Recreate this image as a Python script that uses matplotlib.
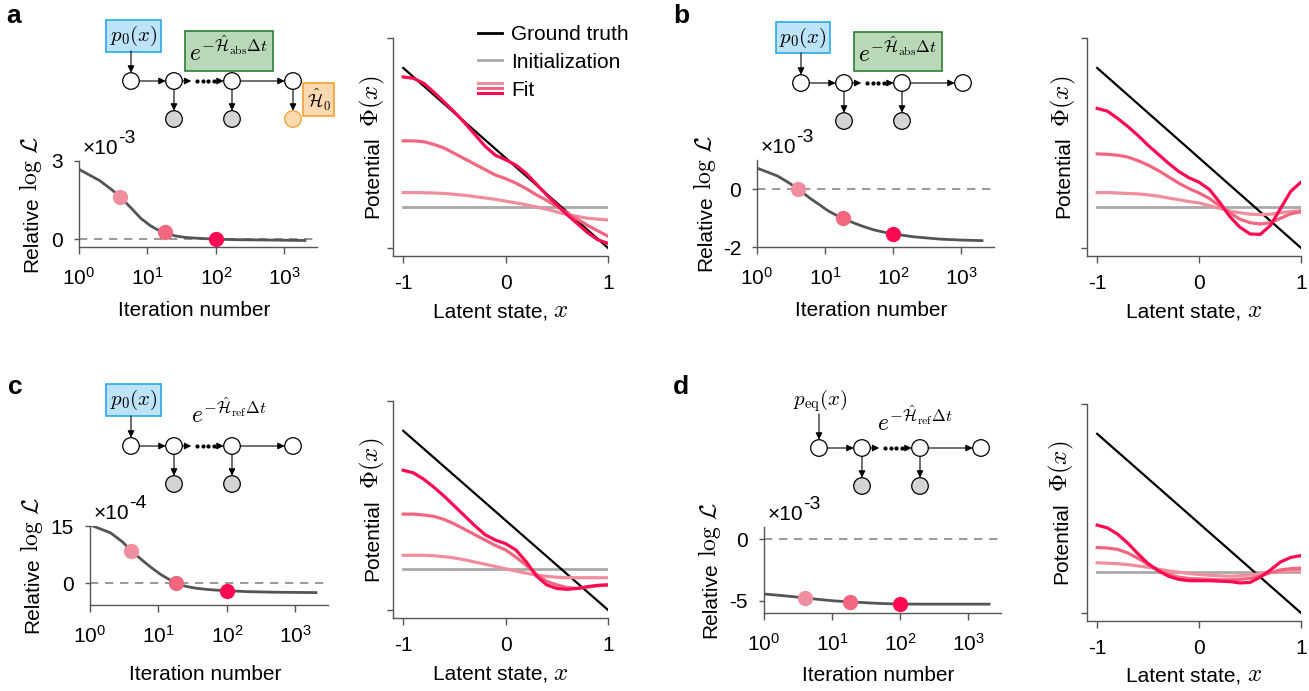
import numpy as np
import matplotlib
import matplotlib.pyplot as plt
from matplotlib.lines import Line2D
from matplotlib.legend_handler import HandlerBase
from matplotlib.patches import Circle

plt.rcParams['font.family'] = ['Liberation Sans', 'DejaVu Sans']
plt.rcParams['mathtext.fontset'] = 'cm'
plt.rcParams['axes.unicode_minus'] = False
plt.rcParams['font.size'] = 15

W, H = 1309, 691

# ---- loss curves (relative log-likelihood) ----
iters = [1, 2, 3, 4, 6, 8, 11, 15, 18, 25, 35, 50, 70, 100, 200, 500, 1000, 2000]
dot_iters = [4, 18, 100]
loss_a = [2.68, 2.25, 1.9, 1.63, 1.15, 0.8, 0.52, 0.32, 0.26, 0.13, 0.07, 0.04, 0.02, 0.0,
          -0.02, -0.03, -0.04, -0.05]                       # x1e-3
loss_b = [0.72, 0.45, 0.2, 0.0, -0.32, -0.52, -0.75, -0.92, -1.0, -1.15, -1.28, -1.4, -1.48,
          -1.55, -1.65, -1.73, -1.76, -1.78]                 # x1e-3
loss_c = [15.3, 13.2, 10.8, 8.5, 5.8, 4.0, 2.2, 0.8, 0.0, -0.8, -1.3, -1.6, -1.8, -1.95,
          -2.2, -2.35, -2.4, -2.45]                           # x1e-4
loss_d = [-4.45, -4.6, -4.7, -4.76, -4.88, -4.95, -5.02, -5.06, -5.08, -5.13, -5.18, -5.22,
          -5.25, -5.27, -5.28, -5.28, -5.28, -5.28]           # x1e-3

# ---- potentials ----
x_latent = np.linspace(-1, 1, 21)
truth_x = [-1, 1]
truth_y = [1, -1]
init_y = -0.54

fit_a = [
    [-0.385, -0.385, -0.387, -0.39, -0.395, -0.405, -0.415, -0.43, -0.445, -0.46, -0.48,
     -0.5, -0.52, -0.545, -0.57, -0.6, -0.63, -0.65, -0.67, -0.68, -0.69],
    [0.19, 0.19, 0.18, 0.15, 0.11, 0.05, -0.01, -0.07, -0.13, -0.19, -0.23,
     -0.28, -0.34, -0.41, -0.47, -0.54, -0.61, -0.68, -0.75, -0.81, -0.87],
    [0.9, 0.885, 0.83, 0.73, 0.62, 0.51, 0.39, 0.26, 0.13, 0.03, -0.02,
     -0.08, -0.17, -0.29, -0.41, -0.52, -0.63, -0.73, -0.83, -0.91, -0.95],
]
fit_b = [
    [-0.385, -0.385, -0.39, -0.395, -0.4, -0.41, -0.425, -0.445, -0.465, -0.485, -0.5,
     -0.53, -0.56, -0.59, -0.61, -0.625, -0.63, -0.625, -0.61, -0.595, -0.585],
    [0.045, 0.04, 0.03, 0.01, -0.03, -0.08, -0.14, -0.21, -0.28, -0.34, -0.39,
     -0.45, -0.53, -0.61, -0.68, -0.72, -0.735, -0.72, -0.67, -0.62, -0.6],
    [0.55, 0.52, 0.44, 0.35, 0.25, 0.14, 0.04, -0.06, -0.15, -0.22, -0.27,
     -0.35, -0.49, -0.65, -0.77, -0.845, -0.85, -0.75, -0.56, -0.37, -0.27],
]
fit_c = [
    [-0.39, -0.39, -0.39, -0.395, -0.405, -0.42, -0.44, -0.465, -0.49, -0.515, -0.54,
     -0.565, -0.59, -0.61, -0.625, -0.635, -0.64, -0.64, -0.64, -0.64, -0.64],
    [0.07, 0.07, 0.06, 0.045, 0.01, -0.04, -0.1, -0.16, -0.22, -0.28, -0.33,
     -0.41, -0.5, -0.6, -0.68, -0.72, -0.75, -0.76, -0.745, -0.73, -0.72],
    [0.56, 0.53, 0.46, 0.37, 0.27, 0.16, 0.05, -0.06, -0.16, -0.22, -0.26,
     -0.33, -0.46, -0.62, -0.72, -0.76, -0.77, -0.76, -0.74, -0.725, -0.72],
]
fit_d = [
    [-0.44, -0.445, -0.45, -0.46, -0.475, -0.49, -0.51, -0.53, -0.545, -0.56, -0.57,
     -0.58, -0.585, -0.59, -0.585, -0.575, -0.56, -0.545, -0.54, -0.535, -0.53],
    [-0.27, -0.275, -0.29, -0.33, -0.39, -0.46, -0.52, -0.57, -0.6, -0.615, -0.62,
     -0.625, -0.63, -0.63, -0.625, -0.615, -0.59, -0.55, -0.52, -0.505, -0.5],
    [-0.02, -0.05, -0.12, -0.22, -0.34, -0.45, -0.53, -0.59, -0.625, -0.64, -0.64,
     -0.64, -0.645, -0.65, -0.665, -0.66, -0.6, -0.52, -0.43, -0.38, -0.36],
]

fit_colors = ['#ef8e9e', '#f3667f', '#ff0a52']
spine_col = '#555555'


def px(left, top, right, bottom):
    return [left / W, 1 - bottom / H, (right - left) / W, (bottom - top) / H]


def style_axes(ax, xpad, ypad):
    for s in ['top', 'right']:
        ax.spines[s].set_visible(False)
    for s in ['left', 'bottom']:
        ax.spines[s].set_color(spine_col)
        ax.spines[s].set_linewidth(1.0)
    ax.tick_params(which='both', direction='out', color=spine_col, labelsize=15)
    ax.tick_params(axis='x', which='major', length=5, width=1.0, pad=xpad)
    ax.tick_params(axis='x', which='minor', length=2.5, width=0.8)
    ax.tick_params(axis='y', which='major', length=3.5, width=1.0, pad=ypad)


fig = plt.figure(figsize=(W / 100, H / 100), dpi=100)

# overlay in figure pixels for the diagrams and the labels
dg = fig.add_axes([0, 0, 1, 1], zorder=5)
dg.set_xlim(0, W)
dg.set_ylim(H, 0)
dg.axis('off')
dg.patch.set_visible(False)

ylabels = []
xlabels = []


def ylabel_split(ax, base_x, plain, math, msize, gap):
    t = dg.text(base_x, 0, plain, rotation=90, rotation_mode='anchor',
                ha='left', va='baseline', fontsize=15)
    m = dg.annotate(math, xy=(base_x, 1.0), xycoords=('data', t), xytext=(0, gap),
                    textcoords='offset points', rotation=90, rotation_mode='anchor',
                    ha='left', va='baseline', fontsize=msize)
    ylabels.append((ax, t, m))


def xlabel_split(ax, base_y, plain, math, msize, gap):
    t = dg.text(0, base_y, plain, ha='left', va='baseline', fontsize=15)
    m = dg.annotate(math, xy=(1.0, base_y), xycoords=(t, 'data'), xytext=(gap, 0),
                    textcoords='offset points', ha='left', va='baseline', fontsize=msize)
    xlabels.append((ax, t, m))


def loss_panel(rect, loss, ylim, yticks, exp, lab_x, lab_y):
    ax = fig.add_axes(px(*rect))
    ax.axhline(0, color='#888888', lw=1.2, dashes=(5, 4), zorder=1)
    ax.semilogx(iters, loss, color=spine_col, lw=2, zorder=2)
    for it, c in zip(dot_iters, fit_colors):
        ax.plot(it, loss[iters.index(it)], 'o', ms=11, color=c, mec='none', zorder=3)
    ax.set_xlim(1, 3000)
    ax.set_ylim(*ylim)
    ax.set_xticks([1, 10, 100, 1000])
    ax.set_yticks(yticks)
    ax.set_yticklabels([str(t) for t in yticks])
    style_axes(ax, 9.5, 8)
    dg.text((rect[0] + rect[2]) / 2 - 4, lab_y, 'Iteration number', ha='center',
            va='baseline', fontsize=15)
    ylabel_split(ax, lab_x, 'Relative', r'$\log\,\mathcal{L}$', 17, 4)
    t = ax.text(0.015, 1.04, '×10', transform=ax.transAxes, ha='left', va='bottom', fontsize=15)
    ax.annotate(exp, xy=(1.0, 0.55), xycoords=t, ha='left', va='bottom', fontsize=14)
    return ax


def potential_panel(rect, fits, lab_x, lab_y):
    ax = fig.add_axes(px(*rect))
    ax.plot([-1, 1], [init_y, init_y], color='#aaaaaa', lw=2, zorder=1)
    ax.plot(truth_x, truth_y, color='k', lw=1.6, zorder=2)
    for f, c in zip(fits, fit_colors):
        ax.plot(x_latent, f, color=c, lw=2.3, zorder=3, solid_joinstyle='round')
    ax.set_xlim(-1.1, 1.0)
    ax.set_ylim(-1.09, 1.333)
    ax.set_xticks([-1, 0, 1])
    ax.set_xticklabels(['-1', '0', '1'])
    ax.set_yticks([-1, 1.333])
    ax.set_yticklabels([])
    style_axes(ax, 8, 4)
    ax.tick_params(axis='y', which='major', length=4.5)
    xlabel_split(ax, lab_y, 'Latent state,', r'$x$', 18, 4)
    ylabel_split(ax, lab_x, 'Potential', r'$\Phi(x)$', 18, 7)
    return ax


loss_panel((79, 161, 317, 247), loss_a, (-0.3, 3), [0, 3], '-3', 37, 316)
loss_panel((757, 160, 994, 247), loss_b, (-2, 1), [-2, 0], '-3', 711, 316)
loss_panel((90, 526, 328, 605), loss_c, (-5.7, 15), [0, 15], '-4', 38, 680)
loss_panel((764, 527, 1001, 613), loss_d, (-6, 1), [-5, 0], '-3', 716, 681)

potential_panel((393, 38, 608, 256), fit_a, 378, 317)
potential_panel((1087, 38, 1301, 256), fit_b, 1069, 317)
potential_panel((393, 401, 608, 618), fit_c, 378, 680)
potential_panel((1087, 404, 1301, 621), fit_d, 1067, 681)


# legend with stacked fit lines
class StackHandler(HandlerBase):
    def create_artists(self, legend, orig_handle, xd, yd, w, h, fontsize, trans):
        arts = []
        for i, c in enumerate(fit_colors):
            y = h / 2 - yd + (1 - i) * 0.33 * h
            arts.append(Line2D([-xd, -xd + w], [y, y], color=c, lw=2.2, transform=trans))
        return arts


gt_h = Line2D([], [], color='k', lw=2)
init_h = Line2D([], [], color='#aaaaaa', lw=2)
fit_h = Line2D([], [], color=fit_colors[2], lw=2)
fig.legend([gt_h, init_h, fit_h], ['Ground truth', 'Initialization', 'Fit'],
           handler_map={fit_h: StackHandler()}, loc='upper left',
           bbox_to_anchor=(478 / W, 1 - 25 / H), frameon=False, fontsize=15,
           handlelength=1.15, handletextpad=0.45, labelspacing=0.42, borderpad=0,
           borderaxespad=0)

# ---- graphical-model diagrams ----
R = 8.3
arrow_kw = dict(arrowstyle='-|>,head_length=0.45,head_width=0.22', color='k',
                lw=0.8, mutation_scale=9, shrinkA=0, shrinkB=0)


def arrow(x0, y0, x1, y1):
    dg.annotate('', xy=(x1, y1), xytext=(x0, y0), arrowprops=arrow_kw)


def chain(x0, y0, obs_last=False):
    xs = [x0, x0 + 43, x0 + 101, x0 + 162]
    y1 = y0 + 38
    for x in xs:
        dg.add_patch(Circle((x, y0), R, fc='white', ec='k', lw=0.9))
    for x in [xs[1], xs[2]]:
        dg.add_patch(Circle((x, y1), R, fc='#d4d4d4', ec='k', lw=0.9))
        arrow(x, y0 + R, x, y1 - R)
    if obs_last:
        dg.add_patch(Circle((xs[3], y1), R, fc='#fdd9b0', ec='#f5a030', lw=0.9))
        arrow(xs[3], y0 + R, xs[3], y1 - R)
    arrow(xs[0] + R, y0, xs[1] - R, y0)
    arrow(xs[1] + R, y0, xs[1] + R + 9, y0)
    dg.plot([xs[1] + R + 15 + 5.5 * k for k in range(4)], [y0] * 4, 'o', ms=2.0, color='k')
    arrow(xs[2] - R - 8, y0, xs[2] - R, y0)
    arrow(xs[2] + R, y0, xs[3] - R, y0)
    return xs


blue_box = dict(boxstyle='square,pad=0.17', fc='#bde3f8', ec='#2aa8e8', lw=1.2)
green_box = dict(boxstyle='square,pad=0.2', fc='#b8d8b8', ec='#2e7d32', lw=1.2)
orange_box = dict(boxstyle='square,pad=0.2', fc='#fdd9b0', ec='#f5a030', lw=1.2)
H_abs = r'$e^{-\hat{\mathcal{H}}_{\mathrm{abs}}\Delta t}$'
H_ref = r'$e^{-\hat{\mathcal{H}}_{\mathrm{ref}}\Delta t}$'

# a
chain(131, 81, obs_last=True)
dg.text(133.5, 36, r'$p_0(x)$', ha='center', va='center', fontsize=15, bbox=blue_box)
arrow(131, 51, 131, 81 - R)
dg.text(229, 51, H_abs, ha='center', va='center', fontsize=17, bbox=green_box)
dg.text(318.5, 99.5, r'$\hat{\mathcal{H}}_0$', ha='center', va='center', fontsize=13,
        bbox=orange_box)
# b
chain(801, 83)
dg.text(803, 37.5, r'$p_0(x)$', ha='center', va='center', fontsize=15, bbox=blue_box)
arrow(801, 53, 801, 83 - R)
dg.text(898, 51.5, H_abs, ha='center', va='center', fontsize=17, bbox=green_box)
# c
chain(131, 446)
dg.text(133.5, 400, r'$p_0(x)$', ha='center', va='center', fontsize=15, bbox=blue_box)
arrow(131, 416, 131, 446 - R)
dg.text(229, 413, H_ref, ha='center', va='center', fontsize=17)
# d
chain(819, 448)
dg.text(820, 401, r'$p_{\mathrm{eq}}(x)$', ha='center', va='center', fontsize=15)
arrow(819, 414, 819, 448 - R)
dg.text(915, 421, H_ref, ha='center', va='center', fontsize=17)

# panel letters
for lab, (lx, ly) in zip('abcd', [(14, 16), (681, 16), (15, 387), (681, 387)]):
    dg.text(lx, ly, lab, ha='center', va='center', fontsize=19, fontweight='bold')

# centre the two-part axis labels on their axes
fig.canvas.draw()
for ax, t, m in ylabels:
    b1 = t.get_window_extent()
    b2 = m.get_window_extent()
    ab = ax.get_window_extent()
    shift = (ab.y0 + ab.y1) / 2 - (b1.y0 + b2.y1) / 2
    x0, y0 = t.get_position()
    t.set_position((x0, y0 - shift))
for ax, t, m in xlabels:
    b1 = t.get_window_extent()
    b2 = m.get_window_extent()
    ab = ax.get_window_extent()
    shift = (ab.x0 + ab.x1) / 2 - (b1.x0 + b2.x1) / 2
    x0, y0 = t.get_position()
    t.set_position((x0 + shift, y0))

fig.savefig('out.png', dpi=100)
